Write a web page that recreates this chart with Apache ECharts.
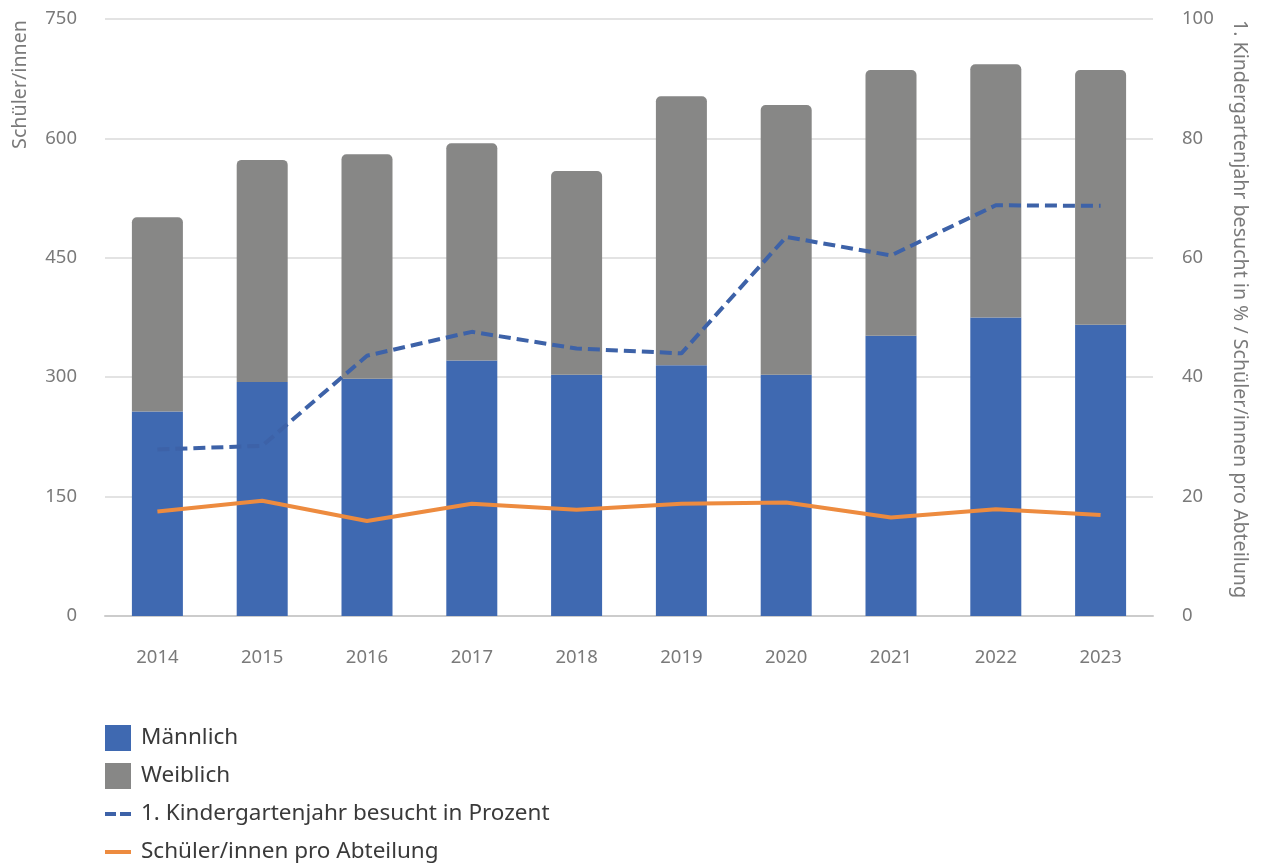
<!DOCTYPE html>
<html>
<head>
<meta charset="utf-8">
<script src="https://cdn.jsdelivr.net/npm/echarts@6/dist/echarts.min.js"></script>
<style>
html,body{margin:0;padding:0;background:#fff;}
#c{width:1263px;height:866px;}
</style>
</head>
<body>
<div id="c"></div>
<script>
const years = ['2014','2015','2016','2017','2018','2019','2020','2021','2022','2023'];
const maennlich = [257, 294, 298, 321, 303, 315, 303, 352, 375, 366];
const weiblich = [244, 279, 282, 273, 256, 338, 339, 334, 318, 320];
const kindergartenProzent = [27.9, 28.5, 43.6, 47.6, 44.8, 44.0, 63.5, 60.4, 68.8, 68.7];
const proAbteilung = [17.5, 19.3, 15.9, 18.8, 17.8, 18.8, 19.0, 16.5, 17.9, 16.9];
const leftTicks = [0, 150, 300, 450, 600, 750];
const rightTicks = [0, 20, 40, 60, 80, 100];

const FONT = 'Noto Sans';
const chart = echarts.init(document.getElementById('c'), null, {renderer: 'canvas'});
chart.setOption({
  backgroundColor: '#ffffff',
  animation: false,
  textStyle: {fontFamily: FONT},
  grid: {left: 105, right: 110, top: 19, bottom: 250, containLabel: false},
  legend: {
    orient: 'vertical', left: 103, top: 725, padding: 0,
    itemWidth: 26, itemHeight: 26, itemGap: 12,
    textStyle: {fontFamily: FONT, fontSize: 22.5, lineHeight: 26, color: '#3a3a3a', padding: [0, 0, 0, 5]},
    data: [
      {name: 'Männlich', icon: 'rect'},
      {name: 'Weiblich', icon: 'rect'},
      {name: '1. Kindergartenjahr besucht in Prozent', itemStyle: {opacity: 0}, lineStyle: {width: 4, type: [11, 4]}},
      {name: 'Schüler/innen pro Abteilung', itemStyle: {opacity: 0}, lineStyle: {width: 4}}
    ]
  },
  xAxis: {
    type: 'category', data: years,
    axisLine: {lineStyle: {color: '#cccccc', width: 2}},
    axisTick: {alignWithLabel: true, length: 17, lineStyle: {color: '#cccccc', width: 2}},
    axisLabel: {color: '#7a7a7a', fontSize: 18.5, margin: 32, fontFamily: FONT}
  },
  yAxis: [
    {
      type: 'value', min: leftTicks[0], max: leftTicks[leftTicks.length-1], interval: 150,
      axisLine: {show: false}, axisTick: {show: false},
      splitLine: {lineStyle: {color: '#e3e3e3', width: 2}},
      axisLabel: {color: '#7a7a7a', fontSize: 18.5, margin: 28, fontFamily: FONT}
    },
    {
      type: 'value', min: rightTicks[0], max: rightTicks[rightTicks.length-1], interval: 20,
      axisLine: {show: false}, axisTick: {show: false},
      splitLine: {show: false},
      axisLabel: {color: '#7a7a7a', fontSize: 18.5, margin: 29, fontFamily: FONT}
    }
  ],
  graphic: [
    {type: 'text', x: 20, y: 20, rotation: Math.PI/2,
     style: {text: 'Schüler/innen', fill: '#7a7a7a', font: '19.7px "Noto Sans"', textAlign: 'right', textVerticalAlign: 'middle'}},
    {type: 'text', x: 1240, y: 20, rotation: -Math.PI/2,
     style: {text: '1. Kindergartenjahr besucht in % / Schüler/innen pro Abteilung', fill: '#7a7a7a', font: '19.6px "Noto Sans"', textAlign: 'left', textVerticalAlign: 'middle'}}
  ],
  series: [
    {name: 'Männlich', type: 'bar', stack: 'total', barWidth: 51, data: maennlich,
     itemStyle: {color: '#3f69b1'}},
    {name: 'Weiblich', type: 'bar', stack: 'total', barWidth: 51, data: weiblich,
     itemStyle: {color: '#878786', borderRadius: [5, 5, 0, 0]}},
    {name: '1. Kindergartenjahr besucht in Prozent', type: 'line', yAxisIndex: 1, data: kindergartenProzent,
     symbol: 'none', itemStyle: {color: '#3d62a8'},
     lineStyle: {color: '#3d62a8', width: 4, type: [12, 6]}},
    {name: 'Schüler/innen pro Abteilung', type: 'line', yAxisIndex: 1, data: proAbteilung,
     symbol: 'none', itemStyle: {color: '#ed8b3f'},
     lineStyle: {color: '#ed8b3f', width: 4}}
  ]
});
</script>
</body>
</html>
